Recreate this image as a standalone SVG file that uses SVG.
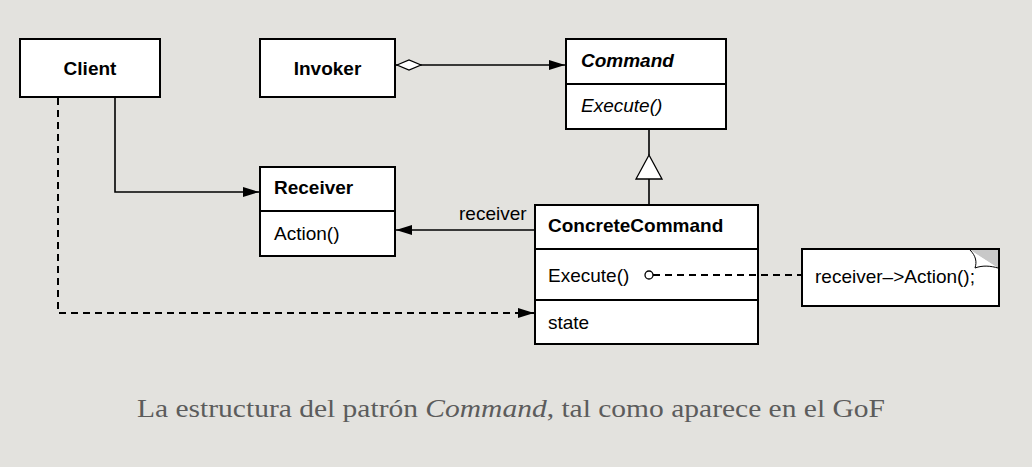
<svg xmlns="http://www.w3.org/2000/svg" width="1032" height="467" viewBox="0 0 1032 467">
<style>
.box{fill:#fff;stroke:#000;stroke-width:2}
.div{stroke:#000;stroke-width:2}
.t{font-family:"Liberation Sans",Arial,sans-serif;font-size:19px;fill:#000}
.b{font-weight:bold}
.i{font-style:italic}
.ln{fill:none;stroke:#000;stroke-width:1.6}
.dash{fill:none;stroke:#000;stroke-width:2;stroke-dasharray:7,5}
.cap{font-family:"Liberation Serif","Times New Roman",serif;font-size:25px;fill:#5c5c5c}
</style>
<defs>
<marker id="arr" viewBox="0 0 16 10" refX="16" refY="5" markerWidth="16" markerHeight="10" markerUnits="userSpaceOnUse" orient="auto">
<path d="M0,0 L16,5 L0,10 Z" fill="#000"/>
</marker>
<marker id="dia" viewBox="0 0 26 12" refX="0" refY="6" markerWidth="26" markerHeight="12" markerUnits="userSpaceOnUse" orient="auto">
<path d="M1,6 L13,1 L25,6 L13,11 Z" fill="#fff" stroke="#000" stroke-width="1.3"/>
</marker>
</defs>
<rect width="1032" height="467" fill="#e3e2de"/>

<g id="client">
<rect x="20" y="39" width="140" height="58" class="box"/>
<text x="90" y="75" class="t b" text-anchor="middle">Client</text>
</g>

<g id="invoker">
<rect x="260" y="39" width="135" height="58" class="box"/>
<text x="327.5" y="75" class="t b" text-anchor="middle">Invoker</text>
</g>

<g id="command">
<rect x="566" y="39" width="160" height="90" class="box"/>
<line x1="566" y1="84" x2="726" y2="84" class="div"/>
<text x="581" y="67" class="t b i">Command</text>
<text x="581" y="112" class="t i">Execute()</text>
</g>

<g id="receiver">
<rect x="260" y="167" width="135" height="89" class="box"/>
<line x1="260" y1="211" x2="395" y2="211" class="div"/>
<text x="274" y="194" class="t b">Receiver</text>
<text x="274" y="240" class="t">Action()</text>
</g>

<g id="concretecommand">
<rect x="535" y="205" width="223" height="139" class="box"/>
<line x1="535" y1="249" x2="758" y2="249" class="div"/>
<line x1="535" y1="300" x2="758" y2="300" class="div"/>
<text x="548" y="232" class="t b">ConcreteCommand</text>
<text x="548" y="282" class="t">Execute()</text>
<text x="548" y="329" class="t">state</text>
</g>

<g id="note">
<rect x="802" y="249" width="197" height="57" class="box"/>
<path d="M970,250 L998,250 L998,268 Z" fill="#c8c8c8"/>
<path d="M970,250 C976,256 977,262 975,268 C983,265 991,266 998,268" fill="#fff" stroke="#000" stroke-width="1"/>
<text x="815" y="283" class="t">receiver–&gt;Action();</text>
</g>

<g id="connectors">
<line x1="396" y1="65" x2="565" y2="65" class="ln" marker-start="url(#dia)" marker-end="url(#arr)"/>
<polyline points="115,98 115,192 259,192" class="ln" stroke="#555" marker-end="url(#arr)"/>
<polyline points="58,98 58,313 534,313" class="dash" marker-end="url(#arr)"/>
<line x1="534" y1="230" x2="396" y2="230" class="ln" marker-end="url(#arr)"/>
<text x="459" y="220" class="t">receiver</text>
<line x1="649" y1="130" x2="649" y2="155" class="ln"/>
<path d="M649,155 L662,179 L636,179 Z" fill="#fff" stroke="#000" stroke-width="1.3"/>
<line x1="649" y1="179" x2="649" y2="204" class="ln"/>
<line x1="653" y1="275" x2="801" y2="275" class="dash"/>
<circle cx="649" cy="275" r="4" fill="#fff" stroke="#000" stroke-width="1.3"/>
</g>

<text x="137" y="417" class="cap" textLength="748" lengthAdjust="spacingAndGlyphs">La estructura del patrón <tspan font-style="italic">Command</tspan>, tal como aparece en el GoF</text>
</svg>
